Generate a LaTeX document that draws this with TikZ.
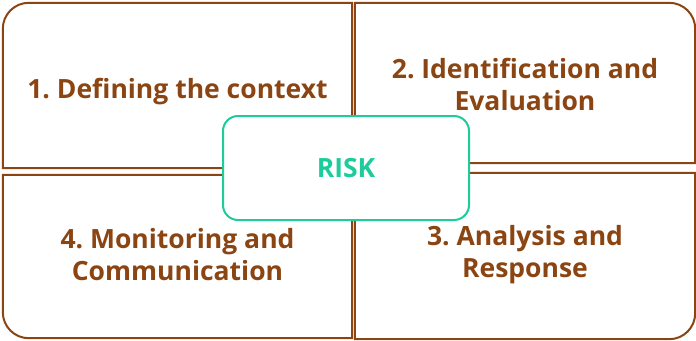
\documentclass[tikz,border=0pt]{standalone}
\usepackage{fontspec}
\setmainfont{Open Sans}
\frenchspacing
\definecolor{riskbrown}{RGB}{139,69,19}
\definecolor{riskgreen}{RGB}{30,204,155}
\tikzset{
  stagebox/.style={draw=none, inner sep=0pt},
  stagetext/.style={inner sep=0pt, align=center, text=riskbrown,
    font=\fontsize{26.5}{32}\selectfont\bfseries},
  stageline/.style={draw=riskbrown, line width=2pt},
  riskbox/.style={draw=riskgreen, fill=white, line width=2pt, rounded corners=15pt,
    minimum width=246pt, minimum height=104pt, inner sep=0pt, text=riskgreen,
    font=\fontsize{26.5}{32}\selectfont\bfseries}
}
\begin{document}
\begin{tikzpicture}[x=1pt,y=-1pt]
            \useasboundingbox (0,0) rectangle (696,340);

            % Placing the four stage boxes
            \node [stagebox, minimum width=349pt, minimum height=165pt] (ctx) at (177.5,85.5) {};
            \node [stagebox, minimum width=340pt, minimum height=160pt] (ident) at (525,83) {};
            \node [stagebox, minimum width=340pt, minimum height=166pt] (analysis) at (525,256) {};
            \node [stagebox, minimum width=349pt, minimum height=163pt] (monitor) at (177.5,256.5) {};

            % Drawing box ctx, round corner north west
            \draw [stageline] (ctx.north east) -- ([xshift=26pt]ctx.north west)
              arc [start angle=90, end angle=180, radius=26pt] -- (ctx.south west) -- (ctx.south east) -- cycle;%

            % Drawing box ident, round corner north east
            \draw [stageline] (ident.north west) -- ([xshift=-26pt]ident.north east)
              arc [start angle=90, end angle=0, radius=26pt] -- (ident.south east) -- (ident.south west) -- cycle;%

            % Drawing box analysis, round corner south east
            \draw [stageline] (analysis.north west) -- (analysis.north east) -- ([yshift=26pt]analysis.south east)
              arc [start angle=0, end angle=-90, radius=26pt] -- (analysis.south west) -- cycle;%

            % Drawing box monitor, round corner south west
            \draw [stageline] (monitor.north east) -- (monitor.north west) -- ([yshift=26pt]monitor.south west)
              arc [start angle=180, end angle=270, radius=26pt] -- (monitor.south east) -- cycle;%

            % Writing the stage names
            \node [stagetext, yshift=-6pt] (ctxtext) at (ctx.center) {1. Defining the context};
            \node [stagetext, yshift=-1.5pt] (identtext) at (ident.center) {2. Identification and\\Evaluation};
            \node [stagetext, yshift=1pt] (analysistext) at (analysis.center) {3. Analysis and\\Response};
            \node [stagetext, yshift=2pt] (monitortext) at (monitor.center) {4. Monitoring and\\Communication};

            % Marking the risk in the middle
            \node [riskbox] (risk) at (346,168) {RISK};
        \end{tikzpicture}
\end{document}
